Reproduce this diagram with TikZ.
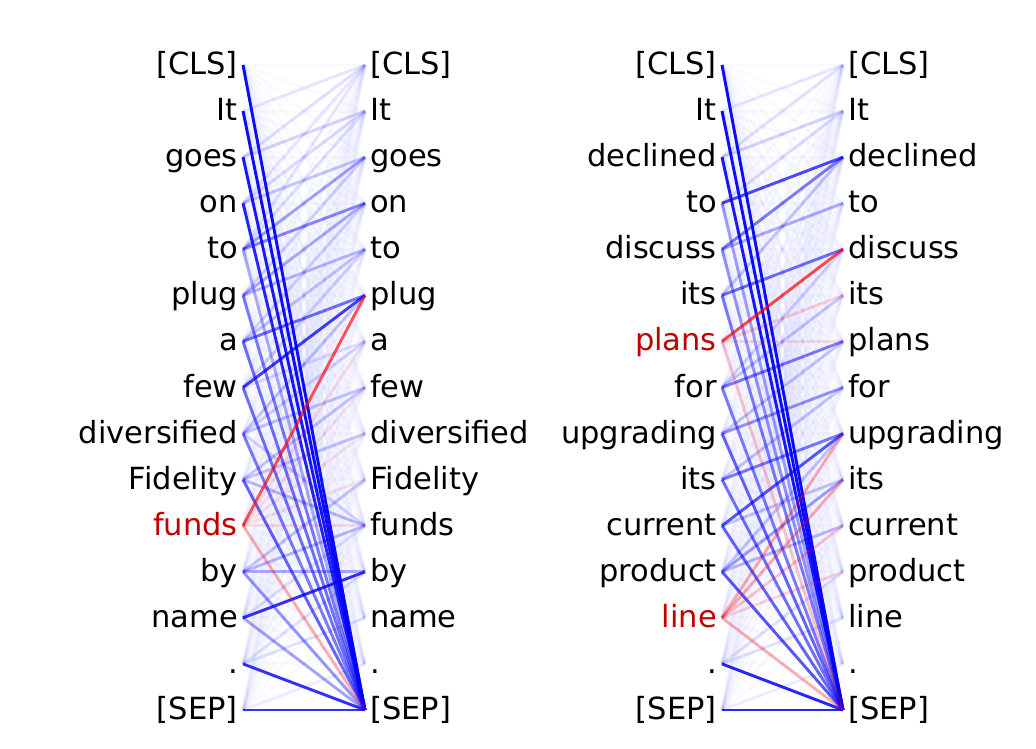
\documentclass[tikz,border=0pt]{standalone}
\usepackage{fontspec}
\setmainfont{DejaVu Sans}
\definecolor{hl}{RGB}{192,0,0}
\definecolor{ab}{RGB}{0,0,255}
\definecolor{ar}{RGB}{255,0,0}
\tikzset{
  tok/.style={font=\fontsize{30.5}{36}\selectfont, inner sep=0pt},
  att/.style={line width=2.9pt, line cap=butt},
}
\begin{document}
\begin{tikzpicture}[x=1pt,y=-1pt]
\useasboundingbox (0,0) rectangle (1036,748);
% ---------- coordinates ----------
\foreach \i in {0,...,14}{
  \pgfmathsetmacro{\yy}{65+46.07*\i}
  \coordinate (La\i) at (243,\yy);
  \coordinate (Lb\i) at (365,\yy);
  \coordinate (Ra\i) at (722,\yy);
  \coordinate (Rb\i) at (843,\yy);
}
% ---------- faint background ----------
\foreach \a in {0,...,14}{
  \foreach \b in {0,...,14}{
    \draw[att, ab, draw opacity=0.022] (La\a) -- (Lb\b);
    \draw[att, ab, draw opacity=0.022] (Ra\a) -- (Rb\b);
  }
}
% ---------- left panel: blue ----------
\foreach \a/\b/\o in {
  1/0/.08, 2/0/.1, 3/0/.08, 4/0/.08, 2/1/.15, 3/1/.12, 4/1/.1,
  3/2/.2, 4/2/.35, 4/3/.45, 5/3/.3, 5/4/.25, 5/2/.15,
  6/5/.55, 6/4/.2, 6/3/.15, 7/5/.75, 7/6/.1, 7/4/.15,
  8/7/.2, 8/5/.2, 8/6/.15, 9/8/.2, 9/7/.2, 9/10/.25, 8/10/.15,
  11/10/.25, 11/11/.3, 11/9/.2, 12/11/.8, 12/10/.1, 13/12/.1, 13/11/.1, 14/13/.05,
  0/14/.95, 1/14/.95, 2/14/.9, 3/14/.85, 4/14/.3, 5/14/.5, 6/14/.55,
  7/14/.55, 8/14/.5, 9/14/.6, 11/14/.4, 12/14/.35, 13/14/.8, 14/14/.8}{
  \draw[att, ab, draw opacity=\o] (La\a) -- (Lb\b);
}
% ---------- left panel: red ----------
\foreach \a/\b/\o in {10/5/.65, 10/6/.1, 10/7/.08, 10/8/.08, 10/9/.08, 10/10/.1, 10/14/.3}{
  \draw[att, ar, draw opacity=\o] (La\a) -- (Lb\b);
}
% ---------- right panel: blue ----------
\foreach \a/\b/\o in {
  1/0/.08, 2/0/.1, 2/1/.15, 3/2/.7, 3/1/.12, 4/2/.5, 4/3/.3,
  5/4/.55, 5/2/.2, 7/6/.5, 7/5/.2, 7/4/.15, 8/7/.4, 8/6/.2,
  9/8/.5, 9/7/.2, 10/8/.65, 10/9/.2, 11/9/.35, 11/10/.25, 11/8/.2,
  13/12/.1, 13/11/.1, 14/13/.05,
  0/14/.95, 1/14/.95, 2/14/.9, 3/14/.35, 4/14/.4, 5/14/.5, 7/14/.5,
  8/14/.6, 9/14/.55, 10/14/.6, 11/14/.65, 13/14/.85, 14/14/.85}{
  \draw[att, ab, draw opacity=\o] (Ra\a) -- (Rb\b);
}
% ---------- right panel: red ----------
\foreach \a/\b/\o in {6/4/.7, 6/5/.15, 6/6/.1, 6/14/.2,
  12/8/.3, 12/9/.3, 12/10/.2, 12/11/.15, 12/14/.3}{
  \draw[att, ar, draw opacity=\o] (Ra\a) -- (Rb\b);
}
% ---------- tokens ----------
\foreach \t/\c [count=\i from 0] in {{[CLS]}/black, It/black, goes/black, on/black, to/black, plug/black, a/black, few/black, diversified/black, Fidelity/black, funds/hl, by/black, name/black, ./black, {[SEP]}/black}{
  \pgfmathsetmacro{\yy}{65+46.07*\i+9.5}
  \node[tok, anchor=base east, text=\c] (lw\i) at (238,\yy) {\t};
}
\foreach \t [count=\i from 0] in {{[CLS]}, It, goes, on, to, plug, a, few, diversified, Fidelity, funds, by, name, ., {[SEP]}}{
  \pgfmathsetmacro{\yy}{65+46.07*\i+9.5}
  \node[tok, anchor=base west] (lv\i) at (370,\yy) {\t};
}
\foreach \t/\c [count=\i from 0] in {{[CLS]}/black, It/black, declined/black, to/black, discuss/black, its/black, plans/hl, for/black, upgrading/black, its/black, current/black, product/black, line/hl, ./black, {[SEP]}/black}{
  \pgfmathsetmacro{\yy}{65+46.07*\i+9.5}
  \node[tok, anchor=base east, text=\c] (rw\i) at (717,\yy) {\t};
}
\foreach \t [count=\i from 0] in {{[CLS]}, It, declined, to, discuss, its, plans, for, upgrading, its, current, product, line, ., {[SEP]}}{
  \pgfmathsetmacro{\yy}{65+46.07*\i+9.5}
  \node[tok, anchor=base west] (rv\i) at (848,\yy) {\t};
}
\end{tikzpicture}
\end{document}
